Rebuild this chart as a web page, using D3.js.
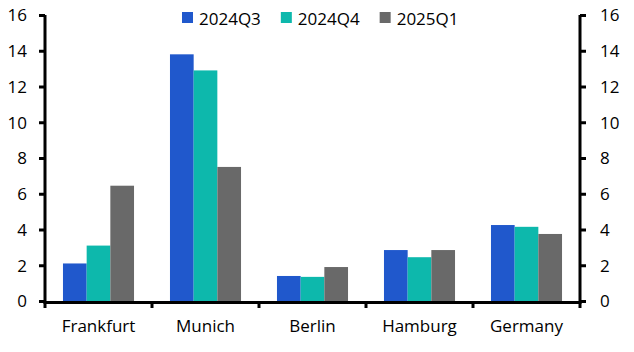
<!DOCTYPE html>
<html>
<head>
<meta charset="utf-8">
<script src="https://cdn.jsdelivr.net/npm/d3@7"></script>
<style>
  body { margin: 0; background: #fff; }
  svg text { font-family: "Open Sans", sans-serif; fill: #000; }
</style>
</head>
<body>
<div id="chart"></div>
<script>
// données
const cities = ["Frankfurt", "Munich", "Berlin", "Hamburg", "Germany"];
const seriesNames = ["2024Q3", "2024Q4", "2025Q1"];
const q3 = [2.1, 13.8, 1.4, 2.85, 4.25];
const q4 = [3.1, 12.9, 1.35, 2.45, 4.15];
const q1 = [6.45, 7.5, 1.9, 2.85, 3.75];
const yTicks = [0, 2, 4, 6, 8, 10, 12, 14, 16];
const colors = ["#2058cc", "#0db8ac", "#696969"];

const width = 634, height = 352;
const margin = { top: 15, right: 54, bottom: 51, left: 45 };

const svg = d3.select("#chart").append("svg")
    .attr("width", width)
    .attr("height", height);

const rows = cities.map((c, i) => ({ city: c, values: [q3[i], q4[i], q1[i]] }));

// échelles
const x0 = d3.scaleBand()
    .domain(cities)
    .range([margin.left, width - margin.right])
    .paddingInner(0.336)
    .paddingOuter(0.168);

const x1 = d3.scaleBand()
    .domain(seriesNames)
    .range([0, x0.bandwidth()]);

const y = d3.scaleLinear()
    .domain([0, 16])
    .range([height - margin.bottom, margin.top]);

// barres
svg.append("g")
  .selectAll("g")
  .data(rows)
  .join("g")
    .attr("transform", d => `translate(${x0(d.city)},0)`)
  .selectAll("rect")
  .data(d => d.values.map((v, k) => ({ key: seriesNames[k], value: v, k })))
  .join("rect")
    .attr("x", d => x1(d.key))
    .attr("y", d => y(d.value))
    .attr("width", x1.bandwidth())
    .attr("height", d => y(0) - y(d.value))
    .attr("fill", d => colors[d.k]);

// axe gauche
const yLeft = svg.append("g")
    .attr("transform", `translate(${margin.left},0)`)
    .call(d3.axisLeft(y).tickValues(yTicks).tickSize(6).tickPadding(12));

// axe droit
const yRight = svg.append("g")
    .attr("transform", `translate(${width - margin.right},0)`)
    .call(d3.axisRight(y).tickValues(yTicks).tickSize(6).tickPadding(14));

[yLeft, yRight].forEach(g => {
    g.select(".domain").attr("stroke-width", 3)
      .attr("d", `M0,${y(16)}V${y(0) + 1}`);
    g.selectAll(".tick line").attr("stroke-width", 3);
    g.selectAll("text").style("font-size", "17px").attr("dy", "0.35em");
});

// axe X : ticks aux frontières des catégories
const step = x0.step();
const bounds = d3.range(cities.length + 1).map(i => margin.left + i * step);
const xAxis = svg.append("g");
xAxis.append("line")
    .attr("x1", margin.left - 1.5).attr("x2", width - margin.right + 1.5)
    .attr("y1", y(0) + 1.5).attr("y2", y(0) + 1.5)
    .attr("stroke", "#000").attr("stroke-width", 3);
xAxis.selectAll("line.t")
  .data(bounds)
  .join("line")
    .attr("class", "t")
    .attr("x1", d => d).attr("x2", d => d)
    .attr("y1", y(0)).attr("y2", y(0) + 7)
    .attr("stroke", "#000").attr("stroke-width", 3);
xAxis.selectAll("text")
  .data(cities)
  .join("text")
    .attr("x", d => x0(d) + x0.bandwidth() / 2)
    .attr("y", 332)
    .attr("text-anchor", "middle")
    .style("font-size", "17px")
    .text(d => d);

// légende
const legend = svg.append("g");
let lx = 182;
seriesNames.forEach((s, i) => {
    legend.append("rect")
        .attr("x", lx).attr("y", 12)
        .attr("width", 11).attr("height", 11)
        .attr("fill", colors[i]);
    const t = legend.append("text")
        .attr("x", lx + 17).attr("y", 24.5)
        .style("font-size", "17px")
        .text(s);
    lx += 17 + t.node().getComputedTextLength() + 20;
});
</script>
</body>
</html>
